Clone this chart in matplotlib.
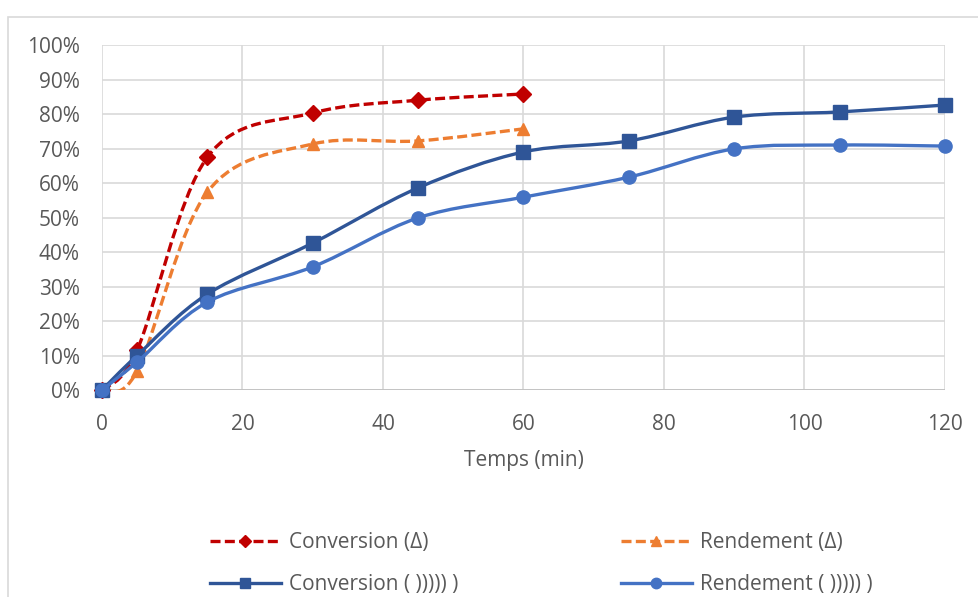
import numpy as np
import matplotlib
matplotlib.use("Agg")
import matplotlib.pyplot as plt
from matplotlib.path import Path
from matplotlib.patches import PathPatch, Rectangle
from matplotlib.lines import Line2D
from matplotlib.ticker import PercentFormatter

plt.rcParams["font.family"] = ["Open Sans", "DejaVu Sans"]

# data (fractions)
t_delta = [0, 5, 15, 30, 45, 60]
conv_delta = [0.0, 0.116, 0.675, 0.803, 0.840, 0.858]
rend_delta = [0.0, 0.055, 0.574, 0.713, 0.722, 0.757]

t_us = [0, 5, 15, 30, 45, 60, 75, 90, 105, 120]
conv_us = [0.0, 0.100, 0.278, 0.426, 0.586, 0.690, 0.722, 0.791, 0.806, 0.826]
rend_us = [0.0, 0.081, 0.255, 0.357, 0.499, 0.559, 0.617, 0.699, 0.710, 0.707]

labels = ["Conversion (Δ)", "Rendement (Δ)", "Conversion ( ))))) )", "Rendement ( ))))) )"]

TXT = "#595959"
GRID = "#D9D9D9"
FS = 15


def smooth_path(x, y, k=1 / 6):
    # Catmull-Rom style bezier through the points (Excel "smoothed line")
    x = np.asarray(x, float)
    y = np.asarray(y, float)
    verts = [(x[0], y[0])]
    codes = [Path.MOVETO]
    n = len(x)
    for i in range(n - 1):
        p0 = (x[max(i - 1, 0)], y[max(i - 1, 0)])
        p1 = (x[i], y[i])
        p2 = (x[i + 1], y[i + 1])
        p3 = (x[min(i + 2, n - 1)], y[min(i + 2, n - 1)])
        c1 = (p1[0] + (p2[0] - p0[0]) * k, p1[1] + (p2[1] - p0[1]) * k)
        c2 = (p2[0] - (p3[0] - p1[0]) * k, p2[1] - (p3[1] - p1[1]) * k)
        verts += [c1, c2, p2]
        codes += [Path.CURVE4] * 3
    return Path(verts, codes)


fig = plt.figure(figsize=(9.79, 5.97), dpi=100)
fig.patches.append(Rectangle((8 / 979, -0.1), 1.2, 1 - 17 / 597 + 0.1,
                             transform=fig.transFigure, fill=False,
                             edgecolor="#D9D9D9", linewidth=1.2))
ax = fig.add_axes([102 / 979, 1 - 390 / 597, (945 - 102) / 979, (390 - 45) / 597])

series = [
    (t_delta, conv_delta, "#C00000", "D", 8, (3, 1.3)),
    (t_delta, rend_delta, "#ED7D31", "^", 9, (3, 1.3)),
    (t_us, conv_us, "#2F5597", "s", 9.5, None),
    (t_us, rend_us, "#4472C4", "o", 9.5, None),
]

handles = []
for i, (x, y, c, m, ms, dash) in enumerate(series):
    ls = (0, dash) if dash else "-"
    patch = PathPatch(smooth_path(x, y), facecolor="none", edgecolor=c,
                      linewidth=2.4, linestyle=ls, zorder=3 + i, capstyle="butt")
    ax.add_patch(patch)
    ax.plot(x, y, linestyle="none", marker=m, markersize=ms, color=c,
            markeredgecolor=c, zorder=3 + i, clip_on=False)
    h = Line2D([], [], color=c, linewidth=2.4, linestyle=ls, marker=m,
               markersize=ms - 2, markeredgecolor=c)
    handles.append(h)

ax.set_xlim(0, 120)
ax.set_ylim(0, 1)
ax.set_xticks(np.arange(0, 121, 20))
ax.set_yticks(np.arange(0, 1.01, 0.1))
ax.yaxis.set_major_formatter(PercentFormatter(1.0, decimals=0))
ax.grid(True, color=GRID, linewidth=1.2)
ax.set_axisbelow(True)
for s in ax.spines.values():
    s.set_visible(False)
ax.axhline(0, color="#BFBFBF", linewidth=1.2, zorder=1)
ax.tick_params(length=0, labelsize=FS, labelcolor=TXT)
ax.tick_params(axis="x", pad=17)
ax.tick_params(axis="y", pad=16)
ax.set_xlabel("Temps (min)", fontsize=FS, color=TXT, labelpad=11)

# legend order: row by row (col1: conv, col2: rend)
order = [0, 2, 1, 3]
fig.legend([handles[i] for i in order], [labels[i] for i in order],
           ncol=2, loc="upper left", bbox_to_anchor=(210 / 979, 1 - 532 / 597),
           frameon=False, fontsize=FS, labelcolor=TXT, handlelength=3.4,
           handletextpad=0.4, columnspacing=7.8, labelspacing=1.02,
           borderaxespad=0, borderpad=0)

fig.savefig("out.png", dpi=100, facecolor="white")
